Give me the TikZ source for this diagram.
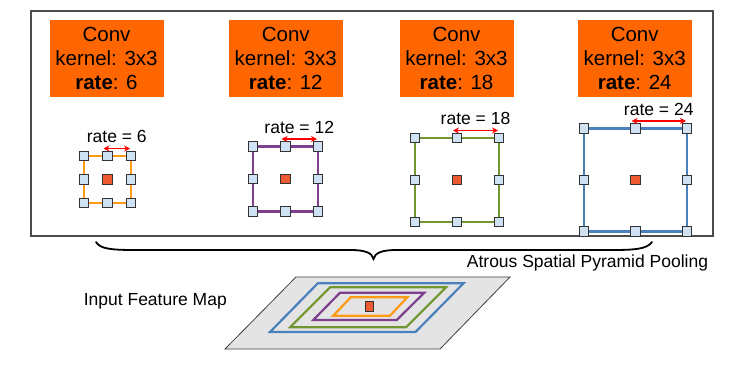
\documentclass[tikz,border=0pt]{standalone}
\usepackage{fontspec}
\setmainfont{Liberation Sans}
\usetikzlibrary{arrows.meta,calc}
\definecolor{convorange}{HTML}{FF6600}
\definecolor{kblue}{HTML}{4A80BC}
\definecolor{kgreen}{HTML}{71952F}
\definecolor{kpurple}{HTML}{7E3F8E}
\definecolor{korange}{HTML}{FF9A14}
\definecolor{kred}{HTML}{EE5A32}
\definecolor{ksqfill}{HTML}{CFE2F3}
\definecolor{mapgray}{HTML}{E4E4E4}
\tikzset{
  convbox/.style={fill=convorange, minimum width=114pt, minimum height=77pt, inner sep=0pt, align=center, font=\fontsize{20.5}{24}\selectfont},
  kframe/.style={inner sep=0pt, outer sep=0pt},
  kline/.style={line width=2.5pt},
  ksq/.style={draw=black!80, fill=ksqfill, line width=0.9pt, minimum size=9.5pt, inner sep=0pt},
  kctr/.style={draw=black!80, fill=kred, line width=0.9pt, minimum size=9.5pt, inner sep=0pt},
  rarrow/.style={draw=red, line width=1.6pt, {Stealth[length=6pt,width=6pt]}-{Stealth[length=6pt,width=6pt]}},
  lbl/.style={font=\fontsize{17.5}{20}\selectfont, inner sep=0pt},
  ring/.style={line width=2.2pt, line join=miter},
}
\newcommand\drawkernel[6]{%
  \node[kframe, minimum size=#4pt] (#1) at (#2,#3) {};
  \draw[kline, #5] (#1.north west) rectangle (#1.south east);
  \foreach \p in {north west, north, north east, west, east, south west, south, south east}
    \node[ksq] at (#1.\p) {};
  \node[kctr] (#1c) at (#1.center) {};
  \coordinate (#1a) at ($(#1.north)+(-4,-7.5)$);
  \coordinate (#1b) at ($(#1.north east)+(-1,-7.5)$);
  \draw[rarrow] (#1a) -- (#1b);
  \node[lbl] (#1l) at ($(#1a)!0.5!(#1b)+(0,-12)$) {rate = #6};
}
\begin{document}
\begin{tikzpicture}[x=1pt,y=-1pt]
\useasboundingbox (0,0) rectangle (730,372);
\fill[white] (0,0) rectangle (730,372);
% outer frame
\node[draw=black!70, line width=1.3pt, minimum width=682pt, minimum height=225pt, inner sep=0pt] (outer) at (372,123.5) {};
% conv boxes
\node[convbox] (c1) at (106.5,58.5) {Conv\\kernel: 3x3\\\textbf{rate}: 6};
\node[convbox] (c2) at (285.8,58.5) {Conv\\kernel: 3x3\\\textbf{rate}: 12};
\node[convbox] (c3) at (456.5,58.5) {Conv\\kernel: 3x3\\\textbf{rate}: 18};
\node[convbox] (c4) at (634.7,58.5) {Conv\\kernel: 3x3\\\textbf{rate}: 24};
% kernels
\drawkernel{k1}{107.5}{179.5}{47}{korange}{6}
\drawkernel{k2}{285.5}{179}{65}{kpurple}{12}
\drawkernel{k3}{457}{180}{84}{kgreen}{18}
\drawkernel{k4}{635.5}{180}{103}{kblue}{24}
% brace
\draw[line width=1.8pt, line cap=round]
  (96,242) .. controls (100,249) and (112,250) .. (135,250) -- (350,250)
  .. controls (366,250) and (372,253) .. (373.5,259)
  .. controls (375,253) and (381,250) .. (397,250) -- (612,250)
  .. controls (635,250) and (647,249) .. (652,242);
\node[lbl] (aspp) at (587.5,263) {Atrous Spatial Pyramid Pooling};
% input feature map
\node[lbl] (ifm) at (155.3,301.7) {Input Feature Map};
\filldraw[fill=mapgray, draw=black!75, line width=0.8pt] (296,277) -- (510,277) -- (440,349) -- (225,349) -- cycle;
\draw[ring, kblue] (317.8,283.3) -- (463.5,283.3) -- (415.5,332) -- (270,332) -- cycle;
\draw[ring, kgreen] (330,287.3) -- (446,287.3) -- (406,327.3) -- (290,327.3) -- cycle;
\draw[ring, kpurple] (340,292.7) -- (424.3,292.7) -- (396.7,320) -- (313.3,320) -- cycle;
\draw[ring, korange] (350.7,297.3) -- (407.3,297.3) -- (390,315.7) -- (333.3,315.7) -- cycle;
\node[draw=black!80, fill=kred, line width=0.8pt, minimum width=8pt, minimum height=10pt, inner sep=0pt] (mc) at (369.3,306.7) {};
\end{tikzpicture}
\end{document}
